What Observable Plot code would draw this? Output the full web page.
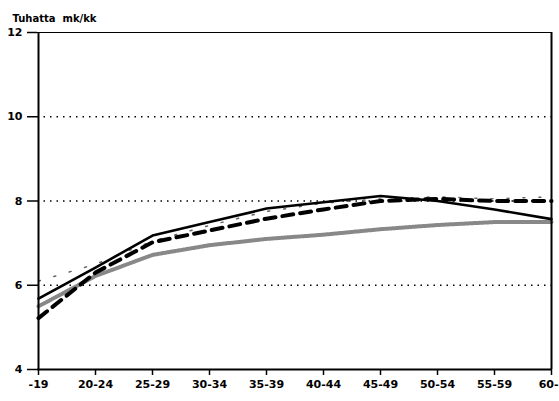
<!DOCTYPE html>
<html>
<head>
<meta charset="utf-8">
<script src="https://cdn.jsdelivr.net/npm/d3@7"></script>
<script src="https://cdn.jsdelivr.net/npm/@observablehq/plot@0.6"></script>
<style>
body { margin: 0; background: #fff; }
svg { font-family: "DejaVu Sans", "Liberation Sans", Arial, sans-serif; }
</style>
</head>
<body>
<div id="chart"></div>
<script>
const categories = ["-19", "20-24", "25-29", "30-34", "35-39", "40-44", "45-49", "50-54", "55-59", "60-"];
const seriesSolid = [5.68, 6.42, 7.18, 7.5, 7.82, 7.97, 8.12, 8.0, 7.8, 7.57];
const seriesDashed = [5.22, 6.3, 7.02, 7.3, 7.58, 7.8, 8.0, 8.05, 8.0, 8.0];
const seriesHalftone = [5.5, 6.22, 6.72, 6.95, 7.1, 7.2, 7.33, 7.43, 7.5, 7.5];
const seriesDotted = [6.1, 6.5, 7.05, 7.42, 7.75, 7.95, 8.05, 8.1, 8.05, 8.1];
const yTicks = [4, 6, 8, 10, 12];
const gridValues = [6, 8, 10];
const title = "Tuhatta  mk/kk";

const toRows = (vals) => categories.map((c, i) => ({cat: c, v: vals[i]}));
const lastCat = categories[categories.length - 1];

const chart = Plot.plot({
  width: 559,
  height: 401,
  marginTop: 32,
  marginBottom: 32,
  marginLeft: 37,
  marginRight: 8,
  style: {fontFamily: "DejaVu Sans, Liberation Sans, Arial, sans-serif", fontSize: "11px", fontWeight: "bold", background: "#fff"},
  x: {type: "point", domain: categories, padding: 0, label: null},
  y: {domain: [4, 12], label: null},
  marks: [
    Plot.ruleY(gridValues, {stroke: "#000", strokeWidth: 1.5, strokeDasharray: "1.5,5"}),
    Plot.ruleY([12], {stroke: "#000", strokeWidth: 1.2}),
    Plot.line(toRows(seriesHalftone), {x: "cat", y: "v", stroke: "#888", strokeWidth: 4, strokeDasharray: "1,1.2"}),
    Plot.line(toRows(seriesDotted), {x: "cat", y: "v", stroke: "#666", strokeWidth: 1.5, strokeDasharray: "2,14", strokeLinecap: "round"}),
    Plot.line(toRows(seriesSolid), {x: "cat", y: "v", stroke: "#000", strokeWidth: 2.6}),
    Plot.line(toRows(seriesDashed), {x: "cat", y: "v", stroke: "#000", strokeWidth: 4, strokeDasharray: "11,7"}),
    Plot.axisX({tickSize: 6, tickPadding: 5, fontSize: 11, fontWeight: "bold", stroke: "#000", strokeWidth: 1.5,
      tickFormat: (d) => d === lastCat ? "" : d}),
    Plot.axisX([lastCat], {tickSize: 0, tickPadding: 11, fontSize: 11, fontWeight: "bold", textAnchor: "end", dx: 7}),
    Plot.axisY(yTicks, {tickSize: 10, tickPadding: 5, fontSize: 11, fontWeight: "bold", stroke: "#000", strokeWidth: 1.5}),
    Plot.ruleY([4], {stroke: "#000", strokeWidth: 2}),
    Plot.ruleX([categories[0]], {stroke: "#000", strokeWidth: 2}),
    Plot.ruleX([lastCat], {stroke: "#000", strokeWidth: 2}),
    Plot.text([title], {frameAnchor: "top-left", textAnchor: "start", dx: -25, dy: -18, fontSize: 10, fontWeight: "bold", fill: "#000"})
  ]
});
document.getElementById("chart").appendChild(chart);
</script>
</body>
</html>
